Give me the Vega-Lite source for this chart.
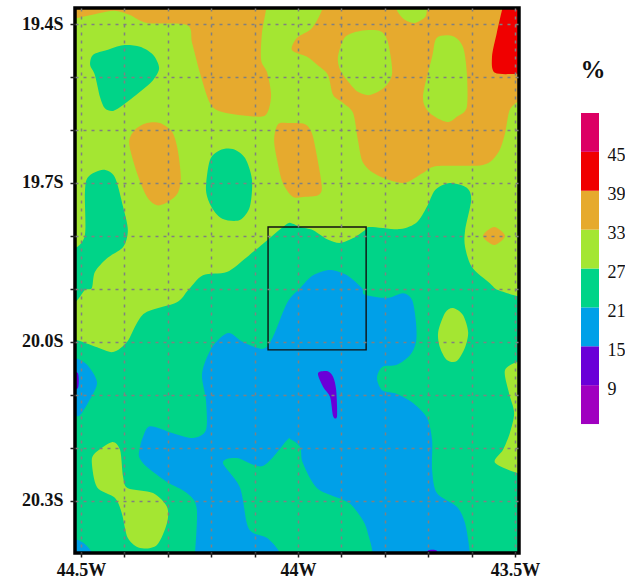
{
"$schema":"https://vega.github.io/schema/vega-lite/v6.json",
"padding":{"left":21,"top":6,"right":0,"bottom":0},
"background":"white",
"spacing":62,
"bounds":"flush",
"config":{"view":{"stroke":null}},
"hconcat":[
{"width":444,"height":545,
"layer":[
{"data":{"values":[
{"p":"base","v":"27-33","lon":[-45,-43,-43,-45],"lat":[-19,-19,-21,-21]},
{"p":"oa","v":"33-39","lon":[-44.548,-44.514,-44.456,-44.422,-44.387,-44.348,-44.256,-44.244,-44.226,-44.203,-44.175,-44.094,-44.071,-44.062,-44.071,-44.085,-44.083,-44.074,-44.074,-44.548],"lat":[-19.389,-19.389,-19.379,-19.375,-19.383,-19.398,-19.402,-19.436,-19.492,-19.549,-19.566,-19.575,-19.568,-19.534,-19.492,-19.468,-19.417,-19.374,-19.355,-19.355]},
{"p":"oc","v":"33-39","lon":[-44.389,-44.376,-44.348,-44.318,-44.290,-44.277,-44.270,-44.277,-44.300,-44.325,-44.348,-44.371],"lat":[-19.625,-19.600,-19.587,-19.587,-19.604,-19.638,-19.689,-19.719,-19.736,-19.742,-19.726,-19.681]},
{"p":"oe","v":"33-39","lon":[-44.055,-44.046,-44.018,-43.984,-43.968,-43.956,-43.945,-43.954,-43.984,-44.012,-44.035,-44.048],"lat":[-19.619,-19.589,-19.587,-19.589,-19.606,-19.651,-19.708,-19.723,-19.726,-19.726,-19.700,-19.657]},
{"p":"of","v":"33-39","lon":[-43.945,-43.968,-44.002,-44.014,-43.979,-43.956,-43.931,-43.919,-43.896,-43.873,-43.862,-43.850,-43.818,-43.758,-43.712,-43.680,-43.574,-43.539,-43.523,-43.512,-43.489,-43.466,-43.466,-43.945],"lat":[-19.374,-19.408,-19.426,-19.449,-19.462,-19.477,-19.496,-19.534,-19.549,-19.568,-19.619,-19.662,-19.685,-19.700,-19.681,-19.668,-19.666,-19.643,-19.606,-19.562,-19.543,-19.525,-19.355,-19.355]},
{"p":"od","v":"33-39","lon":[-43.574,-43.548,-43.523,-43.548],"lat":[-19.800,-19.783,-19.800,-19.817]},
{"p":"lg","v":"27-33","lon":[-43.908,-43.892,-43.857,-43.811,-43.793,-43.783,-43.800,-43.834,-43.862,-43.887,-43.903],"lat":[-19.462,-19.425,-19.413,-19.413,-19.434,-19.492,-19.519,-19.534,-19.528,-19.506,-19.487]},
{"p":"lh","v":"27-33","lon":[-43.772,-43.754,-43.730,-43.707,-43.703,-43.703,-43.772],"lat":[-19.374,-19.392,-19.398,-19.387,-19.372,-19.355,-19.355]},
{"p":"li","v":"27-33","lon":[-43.712,-43.691,-43.680,-43.643,-43.620,-43.611,-43.611,-43.634,-43.657,-43.696],"lat":[-19.538,-19.462,-19.426,-19.423,-19.443,-19.492,-19.557,-19.575,-19.585,-19.568]},
{"p":"r","v":"39-45","lon":[-43.530,-43.542,-43.553,-43.546,-43.489,-43.466,-43.466,-43.523],"lat":[-19.374,-19.417,-19.462,-19.492,-19.494,-19.494,-19.355,-19.355]},
{"p":"gb","v":"21-27","lon":[-44.479,-44.472,-44.440,-44.403,-44.364,-44.334,-44.320,-44.334,-44.364,-44.403,-44.426,-44.445,-44.456,-44.468],"lat":[-19.477,-19.458,-19.449,-19.440,-19.443,-19.458,-19.483,-19.506,-19.528,-19.553,-19.564,-19.559,-19.538,-19.496]},
{"p":"gd","v":"21-27","lon":[-44.212,-44.203,-44.180,-44.150,-44.122,-44.106,-44.111,-44.134,-44.173,-44.198],"lat":[-19.713,-19.657,-19.638,-19.636,-19.653,-19.694,-19.745,-19.770,-19.768,-19.747]},
{"p":"gj","v":"21-27","lon":[-44.514,-44.491,-44.491,-44.484,-44.449,-44.422,-44.403,-44.392,-44.403,-44.440,-44.468,-44.475,-44.491,-44.514,-44.548,-44.548],"lat":[-19.823,-19.798,-19.719,-19.689,-19.675,-19.689,-19.745,-19.789,-19.821,-19.842,-19.868,-19.898,-19.902,-19.925,-19.925,-19.823]},
{"p":"gm","v":"21-27","lon":[-44.548,-44.514,-44.463,-44.426,-44.394,-44.371,-44.348,-44.279,-44.253,-44.219,-44.164,-44.118,-44.071,-44.025,-44.012,-43.995,-43.965,-43.933,-43.903,-43.873,-43.846,-43.834,-43.765,-43.726,-43.703,-43.684,-43.650,-43.611,-43.601,-43.615,-43.615,-43.599,-43.558,-43.539,-43.489,-43.466,-43.466,-44.548],"lat":[-19.996,-19.996,-20.010,-20.019,-20.000,-19.964,-19.943,-19.925,-19.902,-19.874,-19.868,-19.840,-19.808,-19.777,-19.777,-19.783,-19.789,-19.806,-19.813,-19.804,-19.789,-19.783,-19.787,-19.774,-19.745,-19.713,-19.700,-19.709,-19.732,-19.789,-19.821,-19.859,-19.889,-19.902,-19.915,-19.921,-20.430,-20.430]},
{"p":"lk","v":"27-33","lon":[-44.475,-44.468,-44.429,-44.410,-44.403,-44.392,-44.334,-44.302,-44.302,-44.325,-44.364,-44.392,-44.406,-44.422,-44.463],"lat":[-20.228,-20.210,-20.189,-20.204,-20.255,-20.276,-20.285,-20.311,-20.342,-20.383,-20.389,-20.370,-20.323,-20.294,-20.274]},
{"p":"ll","v":"27-33","lon":[-43.677,-43.661,-43.643,-43.620,-43.608,-43.615,-43.634,-43.657,-43.673],"lat":[-19.981,-19.945,-19.936,-19.949,-19.981,-20.010,-20.036,-20.034,-20.010]},
{"p":"lm","v":"27-33","lon":[-43.489,-43.523,-43.514,-43.502,-43.512,-43.528,-43.546,-43.489,-43.466,-43.466],"lat":[-20.036,-20.053,-20.096,-20.134,-20.172,-20.204,-20.228,-20.249,-20.249,-20.036]},
{"p":"bm","v":"15-21","lon":[-44.240,-44.233,-44.256,-44.302,-44.348,-44.366,-44.364,-44.357,-44.341,-44.288,-44.242,-44.212,-44.212,-44.221,-44.198,-44.161,-44.127,-44.081,-44.058,-44.025,-43.995,-43.965,-43.926,-43.887,-43.853,-43.846,-43.795,-43.758,-43.737,-43.728,-43.728,-43.742,-43.772,-43.806,-43.818,-43.806,-43.772,-43.735,-43.703,-43.691,-43.691,-43.680,-43.634,-43.615,-43.604,-43.604,-44.240],"lat":[-20.430,-20.317,-20.285,-20.264,-20.236,-20.217,-20.198,-20.179,-20.159,-20.172,-20.181,-20.166,-20.110,-20.059,-20.010,-19.983,-20.000,-20.013,-19.991,-19.926,-19.898,-19.874,-19.864,-19.874,-19.898,-19.911,-19.917,-19.908,-19.921,-19.964,-20.000,-20.025,-20.043,-20.047,-20.068,-20.091,-20.098,-20.115,-20.143,-20.185,-20.242,-20.285,-20.311,-20.342,-20.398,-20.430,-20.430]},
{"p":"gp","v":"21-27","lon":[-44.042,-44.071,-44.104,-44.118,-44.134,-44.173,-44.141,-44.081,-44.025,-44.018,-43.995,-43.989,-43.956,-43.896,-43.873,-43.841,-43.841,-44.042],"lat":[-20.398,-20.370,-20.360,-20.342,-20.274,-20.228,-20.219,-20.234,-20.185,-20.183,-20.198,-20.228,-20.276,-20.298,-20.311,-20.355,-20.430,-20.430]},
{"p":"bl","v":"15-21","lon":[-44.548,-44.514,-44.486,-44.463,-44.484,-44.502,-44.514,-44.548],"lat":[-20.030,-20.030,-20.043,-20.077,-20.115,-20.138,-20.140,-20.140]},
{"p":"bb","v":"15-21","lon":[-44.514,-44.495,-44.475,-44.475,-44.548,-44.548],"lat":[-20.372,-20.379,-20.398,-20.430,-20.430,-20.372]},
{"p":"pl","v":"9-15","lon":[-44.525,-44.507,-44.507,-44.525],"lat":[-20.059,-20.059,-20.087,-20.087]},
{"p":"pm","v":"9-15","lon":[-43.954,-43.933,-43.919,-43.912,-43.910,-43.919,-43.926,-43.942],"lat":[-20.059,-20.055,-20.066,-20.091,-20.140,-20.140,-20.104,-20.085]},
{"p":"pb","v":"9-15","lon":[-43.701,-43.680,-43.680,-43.701],"lat":[-20.394,-20.394,-20.411,-20.411]}
]},
"transform":[{"flatten":["lon","lat"]}],
"mark":{"type":"line","filled":true,"clip":true,"interpolate":"cardinal-closed","tension":0.15,"strokeWidth":0},
"encoding":{
"x":{"field":"lon","type":"quantitative","scale":{"domain":[-44.5138,-43.4908],"nice":false,"zero":false},
"axis":{"title":null,"values":[-44.5,-44.4,-44.3,-44.2,-44.1,-44,-43.9,-43.8,-43.7,-43.6,-43.5],"labelExpr":"datum.value==-44.5?'44.5W':datum.value==-44?'44W':datum.value==-43.5?'43.5W':''","labelFont":"Liberation Serif","labelFontWeight":"bold","labelFontSize":18,"labelColor":"#111","labelPadding":4,"labelOverlap":false,"labelFlush":false,"tickColor":"#222","tickSize":4,"tickWidth":1.5,"domain":false,"grid":true,"gridColor":"#808080","gridWidth":1.5,"gridDash":[3,5],"gridOpacity":1,"zindex":1}},
"y":{"field":"lat","type":"quantitative","scale":{"domain":[-20.3982,-19.3698],"nice":false,"zero":false},
"axis":{"title":null,"values":[-19.4,-19.5,-19.6,-19.7,-19.8,-19.9,-20,-20.1,-20.2,-20.3],"labelExpr":"datum.value==-19.4?'19.4S':datum.value==-19.7?'19.7S':datum.value==-20?'20.0S':datum.value==-20.3?'20.3S':''","labelFont":"Liberation Serif","labelFontWeight":"bold","labelFontSize":18,"labelColor":"#111","labelPadding":7,"labelOverlap":false,"labelFlush":false,"tickColor":"#222","tickSize":5,"tickWidth":1.5,"domain":false,"grid":true,"gridColor":"#808080","gridWidth":1.5,"gridDash":[3,5],"gridOpacity":1,"zindex":1}},
"detail":{"field":"p"},
"order":{"value":null},
"color":{"field":"v","type":"nominal","legend":null,"scale":{"domain":["3-9","9-15","15-21","21-27","27-33","33-39","39-45","45-51"],"range":["#a000c0","#6a00d8","#00a0e8","#00d488","#a4e632","#e6aa2e","#f00000","#dc0064"]}}
}},
{"data":{"values":[{"a":-44.069,"b":-43.843,"c":-19.783,"d":-20.015}]},
"mark":{"type":"rect","filled":false,"stroke":"#111","strokeWidth":1.4},
"encoding":{"x":{"field":"a","type":"quantitative"},"x2":{"field":"b"},"y":{"field":"c","type":"quantitative"},"y2":{"field":"d"}}},
{"data":{"values":[{"a":-44.5138,"b":-43.4908,"c":-19.3698,"d":-20.3982}]},
"mark":{"type":"rect","filled":false,"stroke":"#000","strokeWidth":3.5},
"encoding":{"x":{"field":"a","type":"quantitative"},"x2":{"field":"b"},"y":{"field":"c","type":"quantitative"},"y2":{"field":"d"}}}
]},
{"width":18,"height":545,
"layer":[
{"data":{"values":[
{"lo":3,"hi":9,"v":"3-9"},{"lo":9,"hi":15,"v":"9-15"},{"lo":15,"hi":21,"v":"15-21"},{"lo":21,"hi":27,"v":"21-27"},{"lo":27,"hi":33,"v":"27-33"},{"lo":33,"hi":39,"v":"33-39"},{"lo":39,"hi":45,"v":"39-45"},{"lo":45,"hi":51,"v":"45-51"}]},
"mark":{"type":"rect"},
"encoding":{
"y":{"field":"lo","type":"quantitative","scale":{"domain":[-16.9,67.2],"nice":false,"zero":false},"axis":{"title":null,"orient":"right","values":[9,15,21,27,33,39,45],"domain":false,"ticks":false,"grid":false,"labelPadding":8,"labelOffset":4,"labelFont":"Liberation Serif","labelFontSize":18,"labelColor":"#111"}},
"y2":{"field":"hi"},
"color":{"field":"v","type":"nominal","legend":null,"scale":{"domain":["3-9","9-15","15-21","21-27","27-33","33-39","39-45","45-51"],"range":["#a000c0","#6a00d8","#00a0e8","#00d488","#a4e632","#e6aa2e","#f00000","#dc0064"]}}
}},
{"data":{"values":[{"y":57.6,"t":"%"}]},
"mark":{"type":"text","font":"Liberation Serif","fontWeight":"bold","fontSize":25,"dx":3,"color":"#111"},
"encoding":{"y":{"field":"y","type":"quantitative"},"text":{"field":"t"}}}
]}
]
}
